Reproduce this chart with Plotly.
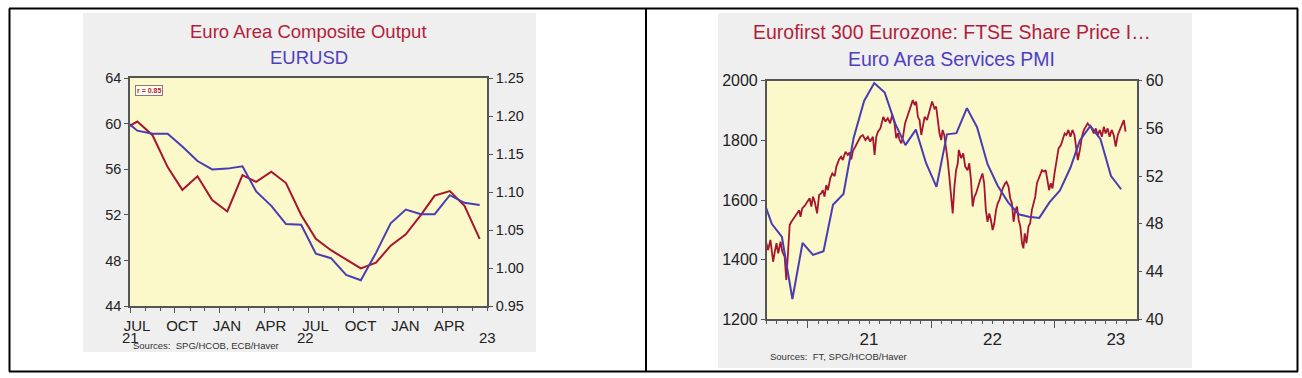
import plotly.graph_objects as go

W, H = 1302, 378

# ---------------- Left chart data (monthly) ----------------
left_months = ["2021-06", "2021-07", "2021-08", "2021-09", "2021-10", "2021-11", "2021-12",
               "2022-01", "2022-02", "2022-03", "2022-04", "2022-05", "2022-06", "2022-07",
               "2022-08", "2022-09", "2022-10", "2022-11", "2022-12", "2023-01", "2023-02",
               "2023-03", "2023-04", "2023-05", "2023-06"]
composite_pmi = [59.5, 60.2, 59.0, 56.2, 54.2, 55.4, 53.3, 52.3, 55.5, 54.9, 55.8, 54.8, 52.0,
                 49.9, 48.9, 48.1, 47.3, 47.8, 49.3, 50.3, 52.0, 53.7, 54.1, 52.8, 49.9]
eurusd = [1.197, 1.181, 1.177, 1.177, 1.160, 1.141, 1.130, 1.131, 1.134, 1.101, 1.082, 1.058,
          1.057, 1.019, 1.013, 0.991, 0.984, 1.020, 1.059, 1.077, 1.071, 1.071, 1.096, 1.086, 1.083]
left_tick_dates = ["2021-07-01", "2021-10-01", "2022-01-01", "2022-04-01", "2022-07-01",
                   "2022-10-01", "2023-01-01", "2023-04-01"]
left_tick_text = ["JUL", "OCT", "JAN", "APR", "JUL", "OCT", "JAN", "APR"]
left_year_dates = ["2021-07-01", "2022-06-25", "2023-07-01"]
left_year_text = ["21", "22", "23"]

# ---------------- Right chart data ----------------
pmi_months = ["2020-08", "2020-09", "2020-10", "2020-11", "2020-12", "2021-01", "2021-02",
              "2021-03", "2021-04", "2021-05", "2021-06", "2021-07", "2021-08", "2021-09",
              "2021-10", "2021-11", "2021-12", "2022-01", "2022-02", "2022-03", "2022-04",
              "2022-05", "2022-06", "2022-07", "2022-08", "2022-09", "2022-10", "2022-11",
              "2022-12", "2023-01", "2023-02", "2023-03", "2023-04", "2023-05", "2023-06",
              "2023-07"]
services_pmi = [50.5, 48.0, 46.9, 41.7, 46.4, 45.4, 45.7, 49.6, 50.5, 55.2, 58.3, 59.8, 59.0,
                56.4, 54.6, 55.9, 53.1, 51.1, 55.5, 55.6, 57.7, 56.1, 53.0, 51.2, 49.8, 48.8,
                48.6, 48.5, 49.8, 50.8, 52.7, 55.0, 56.2, 55.1, 52.0, 50.9]

share_dates = [
    "2020-08-30", "2020-09-05", "2020-09-12", "2020-09-20", "2020-09-25", "2020-09-30",
    "2020-10-05", "2020-10-12", "2020-10-17", "2020-10-24", "2020-10-29", "2020-11-03",
    "2020-11-08", "2020-11-13", "2020-11-23", "2020-11-28", "2020-12-06", "2020-12-10",
    "2020-12-15", "2020-12-22", "2020-12-29", "2021-01-06", "2021-01-11", "2021-01-16",
    "2021-01-21", "2021-01-28", "2021-02-03", "2021-02-09", "2021-02-14", "2021-02-19",
    "2021-02-24", "2021-03-01", "2021-03-08", "2021-03-14", "2021-03-21", "2021-03-26",
    "2021-04-03", "2021-04-09", "2021-04-14", "2021-04-22", "2021-04-29", "2021-05-04",
    "2021-05-09", "2021-05-14", "2021-05-22", "2021-05-29", "2021-06-05", "2021-06-12",
    "2021-06-20", "2021-06-27", "2021-07-04", "2021-07-12", "2021-07-17", "2021-07-22",
    "2021-07-27", "2021-08-03", "2021-08-09", "2021-08-12", "2021-08-18", "2021-08-25",
    "2021-09-01", "2021-09-07", "2021-09-14", "2021-09-19", "2021-09-24", "2021-09-29",
    "2021-10-04", "2021-10-09", "2021-10-15", "2021-10-20", "2021-10-26", "2021-11-02",
    "2021-11-07", "2021-11-13", "2021-11-17", "2021-11-22", "2021-11-27", "2021-12-02",
    "2021-12-07", "2021-12-12", "2021-12-19", "2021-12-27", "2022-01-03", "2022-01-10",
    "2022-01-15", "2022-01-20", "2022-01-25", "2022-01-30", "2022-02-03", "2022-02-08",
    "2022-02-13", "2022-02-18", "2022-02-23", "2022-02-28", "2022-03-05", "2022-03-10",
    "2022-03-15", "2022-03-20", "2022-03-23", "2022-03-30", "2022-04-05", "2022-04-11",
    "2022-04-18", "2022-04-23", "2022-04-28", "2022-05-03", "2022-05-08", "2022-05-13",
    "2022-05-18", "2022-05-25", "2022-06-01", "2022-06-06", "2022-06-11", "2022-06-16",
    "2022-06-21", "2022-06-26", "2022-07-01", "2022-07-06", "2022-07-11", "2022-07-16",
    "2022-07-21", "2022-07-26", "2022-07-31", "2022-08-07", "2022-08-11", "2022-08-17",
    "2022-08-22", "2022-08-27", "2022-09-01", "2022-09-06", "2022-09-11", "2022-09-16",
    "2022-09-21", "2022-09-26", "2022-09-30", "2022-10-04", "2022-10-09", "2022-10-15",
    "2022-10-20", "2022-10-25", "2022-10-30", "2022-11-04", "2022-11-09", "2022-11-16",
    "2022-11-24", "2022-11-30", "2022-12-05", "2022-12-10", "2022-12-15", "2022-12-20",
    "2022-12-25", "2022-12-31", "2023-01-06", "2023-01-12", "2023-01-19", "2023-01-24",
    "2023-01-30", "2023-02-04", "2023-02-10", "2023-02-16", "2023-02-22", "2023-02-28",
    "2023-03-04", "2023-03-10", "2023-03-16", "2023-03-22", "2023-03-28", "2023-04-02",
    "2023-04-08", "2023-04-14", "2023-04-20", "2023-04-26", "2023-05-02", "2023-05-08",
    "2023-05-14", "2023-05-20", "2023-05-26", "2023-05-31", "2023-06-06", "2023-06-12",
    "2023-06-18", "2023-06-24", "2023-06-30", "2023-07-06", "2023-07-12", "2023-07-18",
    "2023-07-24", "2023-07-29"]
share_price = [
    1460, 1432, 1466, 1393, 1427, 1455,
    1421, 1460, 1427, 1410, 1332, 1432,
    1516, 1527, 1544, 1555, 1566, 1544,
    1572, 1580, 1594, 1606, 1578, 1611,
    1594, 1555, 1617, 1622, 1633, 1611,
    1650, 1633, 1673, 1689, 1680, 1712,
    1736, 1745, 1734, 1762, 1751, 1759,
    1736, 1765, 1781, 1796, 1812, 1818,
    1801, 1812, 1796, 1812, 1751, 1812,
    1829, 1840, 1868, 1879, 1863, 1874,
    1857, 1885, 1857, 1807, 1824, 1801,
    1790, 1812, 1857, 1874, 1902, 1924,
    1935, 1918, 1930, 1879, 1868, 1818,
    1857, 1879, 1868, 1902, 1930, 1907,
    1913, 1868, 1823, 1801, 1835, 1818,
    1779, 1734, 1678, 1600, 1555, 1645,
    1700, 1723, 1768, 1740, 1756, 1712,
    1700, 1723, 1667, 1578, 1611, 1622,
    1645, 1667, 1689, 1656, 1566, 1527,
    1555, 1533, 1499, 1522, 1566, 1589,
    1600, 1622, 1639, 1656, 1661, 1645,
    1606, 1589, 1527, 1566, 1578, 1533,
    1511, 1455, 1438, 1488, 1455, 1511,
    1522, 1566, 1589, 1611, 1656, 1678,
    1700, 1695, 1700, 1667, 1633, 1656,
    1639, 1689, 1734, 1773, 1784, 1801,
    1823, 1818, 1835, 1812, 1835, 1818,
    1779, 1734, 1768, 1812, 1835, 1846,
    1857, 1848, 1840, 1823, 1840, 1818,
    1835, 1812, 1846, 1823, 1840, 1812,
    1835, 1818, 1779, 1818, 1835, 1846,
    1868, 1829]
right_year_ticks = ["2021-01-01", "2022-01-01", "2023-01-01"]
right_year_text = ["21", "22", "23"]

RED = "#A8142E"
BLUE = "#4A3DB3"
TRED = "#B31D3A"
TBLUE = "#4D40BF"
AX = "#555555"
FONT = "Arial, Liberation Sans, sans-serif"


def px(x):
    return x / W


def py(y):
    return 1 - y / H


# plot rectangles (pixels)
L = dict(x0=130, x1=487, y0=78.3, y1=306)
R = dict(x0=766.7, x1=1136.7, y0=80.7, y1=319.3)

fig = go.Figure()

mid = lambda m: m + "-16"

fig.add_trace(go.Scatter(x=[mid(m) for m in left_months], y=eurusd, xaxis="x", yaxis="y2",
                         mode="lines", line=dict(color=BLUE, width=2), showlegend=False))
fig.add_trace(go.Scatter(x=[mid(m) for m in left_months], y=composite_pmi, xaxis="x", yaxis="y",
                         mode="lines", line=dict(color=RED, width=2), showlegend=False))
fig.add_trace(go.Scatter(x=share_dates, y=share_price, xaxis="x2", yaxis="y3",
                         mode="lines", line=dict(color=RED, width=1.8), showlegend=False))
fig.add_trace(go.Scatter(x=[mid(m) for m in pmi_months], y=services_pmi, xaxis="x2", yaxis="y4",
                         mode="lines", line=dict(color=BLUE, width=2), showlegend=False))

axcommon = dict(showgrid=False, zeroline=False, showline=True, linecolor=AX, linewidth=1.5,
                ticks="outside", tickcolor=AX, automargin=False,
                tickfont=dict(family=FONT, color="#222222"))

fig.update_layout(
    width=W, height=H, margin=dict(l=0, r=0, t=0, b=0, autoexpand=False),
    paper_bgcolor="white", plot_bgcolor="rgba(0,0,0,0)",
    xaxis=dict(**axcommon, type="date", domain=[px(L["x0"]), px(L["x1"])], anchor="y",
               range=["2021-07-01", "2023-07-01"], tickvals=left_tick_dates,
               ticktext=left_tick_text, ticklen=5, mirror=True, ticklabelshift=7,
               ticklabelstandoff=0,
               minor=dict(ticks="outside", ticklen=3, tickcolor=AX,
                          dtick="M1", tick0="2021-07-01")),
    yaxis=dict(**axcommon, domain=[py(L["y1"]), py(L["y0"])], anchor="x", range=[44, 64],
               tickvals=[44, 48, 52, 56, 60, 64], ticklen=4),
    yaxis2=dict(**axcommon, overlaying="y", side="right", anchor="x", range=[0.95, 1.25],
                tickvals=[0.95, 1.0, 1.05, 1.1, 1.15, 1.2, 1.25], tickformat=".2f", ticklen=4),
    xaxis2=dict(**axcommon, type="date", domain=[px(R["x0"]), px(R["x1"])], anchor="y3",
                range=["2020-09-01", "2023-08-31"], tickvals=right_year_ticks,
                ticktext=right_year_text, ticklen=7, mirror=True, ticklabelshift=61,
                ticklabelstandoff=-3,
                minor=dict(ticks="outside", ticklen=3, tickcolor=AX,
                           dtick="M1", tick0="2020-09-01")),
    yaxis3=dict(**axcommon, domain=[py(R["y1"]), py(R["y0"])], anchor="x2", range=[1200, 2000],
                tickvals=[1200, 1400, 1600, 1800, 2000], ticklen=4),
    yaxis4=dict(**axcommon, overlaying="y3", side="right", anchor="x2", range=[40, 60],
                tickvals=[40, 44, 48, 52, 56, 60], ticklen=4),
)
fig.layout.xaxis.tickfont.size = 15
fig.layout.yaxis.tickfont.size = 14.5
fig.layout.yaxis2.tickfont.size = 14.5
fig.layout.xaxis2.tickfont.size = 17
fig.layout.yaxis3.tickfont.size = 16
fig.layout.yaxis4.tickfont.size = 16

shapes = []
# gray panels
shapes.append(dict(type="rect", xref="paper", yref="paper", x0=px(83), x1=px(536), y0=py(352),
                   y1=py(13), fillcolor="#EFEFEF", line=dict(width=0), layer="below"))
shapes.append(dict(type="rect", xref="paper", yref="paper", x0=px(718), x1=px(1192), y0=py(368),
                   y1=py(13), fillcolor="#EFEFEF", line=dict(width=0), layer="below"))
# plot backgrounds
for r in (L, R):
    shapes.append(dict(type="rect", xref="paper", yref="paper", x0=px(r["x0"]), x1=px(r["x1"]),
                       y0=py(r["y1"]), y1=py(r["y0"]), fillcolor="#FBF8C9",
                       line=dict(width=0), layer="below"))
# outer frame
frame = dict(color="black", width=2)
shapes.append(dict(type="line", xref="paper", yref="paper", x0=px(9), x1=px(1298), y0=py(8.5), y1=py(8.5), line=frame))
shapes.append(dict(type="line", xref="paper", yref="paper", x0=px(9), x1=px(1298), y0=py(371.5), y1=py(371.5), line=frame))
shapes.append(dict(type="line", xref="paper", yref="paper", x0=px(9.5), x1=px(9.5), y0=py(8.5), y1=py(371.5), line=frame))
shapes.append(dict(type="line", xref="paper", yref="paper", x0=px(646), x1=px(646), y0=py(8.5), y1=py(371.5), line=frame))
shapes.append(dict(type="line", xref="paper", yref="paper", x0=px(1297.5), x1=px(1297.5), y0=py(8.5), y1=py(371.5), line=frame))

annotations = []
lcx = (L["x0"] + L["x1"]) / 2
rcx = (R["x0"] + R["x1"]) / 2
C = dict(xref="paper", yref="paper", showarrow=False, xanchor="center", yanchor="middle")
annotations.append(dict(text="Euro Area Composite Output", x=px(lcx), y=py(31.5), **C,
                        font=dict(family=FONT, size=18.5, color=TRED)))
annotations.append(dict(text="EURUSD", x=px(lcx), y=py(57), **C,
                        font=dict(family=FONT, size=18.5, color=TBLUE)))
annotations.append(dict(text="Eurofirst 300 Eurozone: FTSE Share Price I…", x=px(rcx), y=py(32), **C,
                        font=dict(family=FONT, size=19.5, color=TRED)))
annotations.append(dict(text="Euro Area Services PMI", x=px(rcx), y=py(59), **C,
                        font=dict(family=FONT, size=19.5, color=TBLUE)))
# year labels on left chart
for d, t in zip(left_year_dates, left_year_text):
    annotations.append(dict(text=t, x=d, xref="x", y=py(337.5), yref="paper", showarrow=False,
                            xanchor="center", yanchor="middle",
                            font=dict(family=FONT, size=15, color="#222222")))
annotations.append(dict(text="Sources:  SPG/HCOB, ECB/Haver", x=px(131), y=py(345), xref="paper",
                        yref="paper", xanchor="left", yanchor="middle", showarrow=False,
                        font=dict(family=FONT, size=9.5, color="#333333")))
annotations.append(dict(text="Sources:  FT, SPG/HCOB/Haver", x=px(768), y=py(356.5), xref="paper",
                        yref="paper", xanchor="left", yanchor="middle", showarrow=False,
                        font=dict(family=FONT, size=9.5, color="#333333")))
annotations.append(dict(text="<b>r = 0.85</b>", x=px(135), y=py(90), xref="paper", yref="paper",
                        xanchor="left", yanchor="middle", showarrow=False, bgcolor="#FFFBEF",
                        bordercolor="#8A7A7A", borderwidth=1, borderpad=1,
                        font=dict(family=FONT, size=7, color=TRED)))

fig.update_layout(shapes=shapes, annotations=annotations)
fig.write_html("out.html", config={"displayModeBar": False},
               post_script="document.body.style.margin='0px';document.body.style.padding='0px';")
